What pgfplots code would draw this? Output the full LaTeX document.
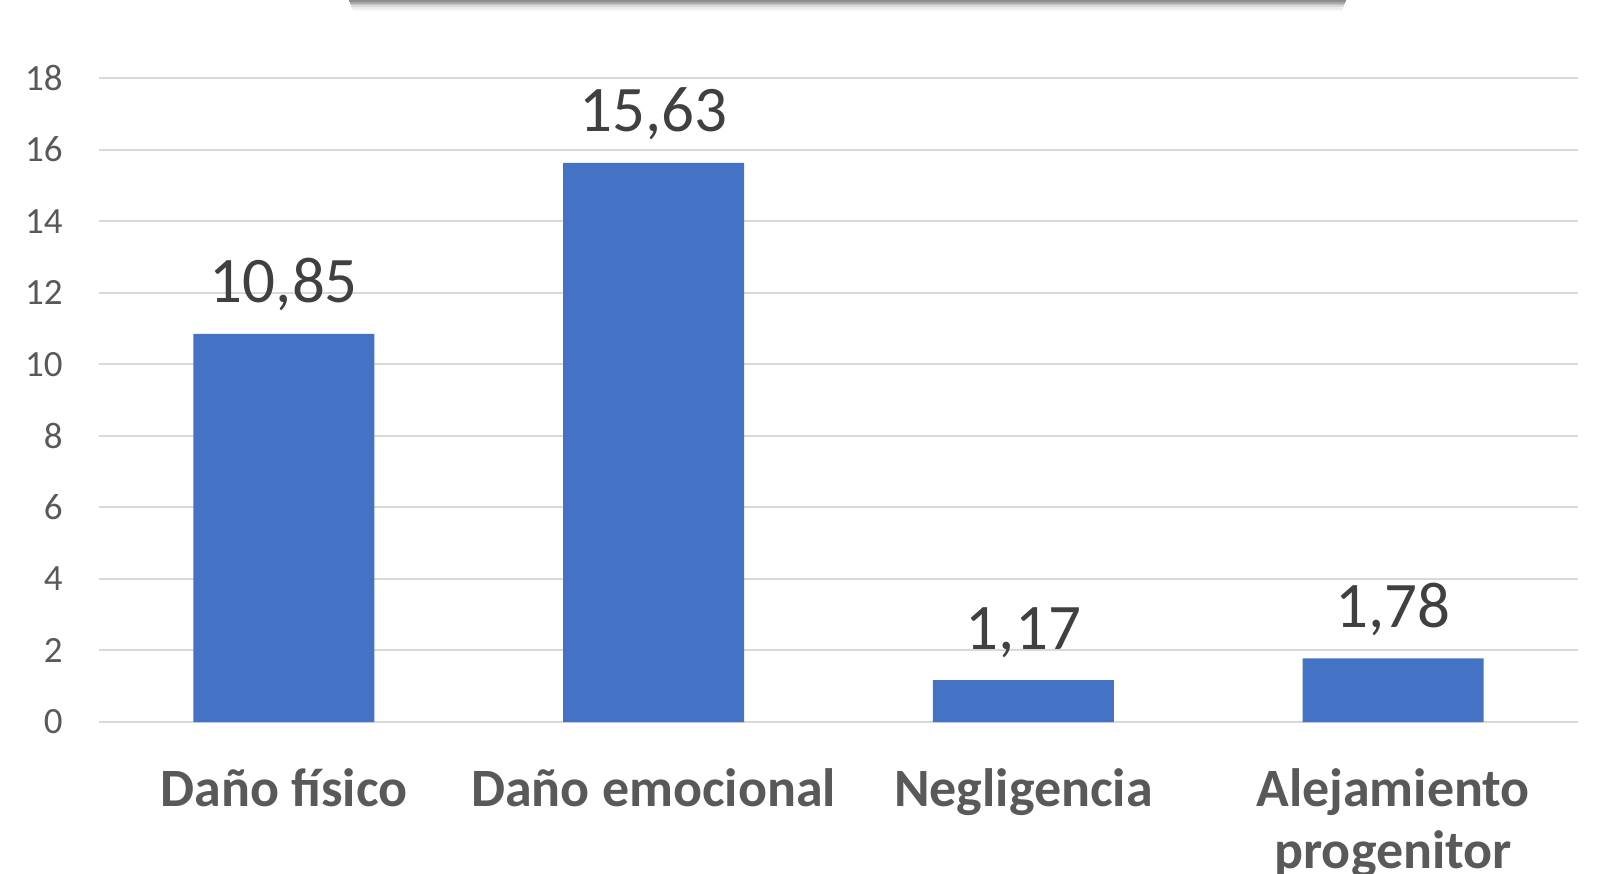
\documentclass[border=0pt]{standalone}
\usepackage{pgfplots}
\pgfplotsset{compat=1.18}
\usepackage{fontspec}
\setmainfont{Carlito}
\definecolor{barblue}{HTML}{4472C4}
\definecolor{gridgray}{HTML}{D9D9D9}
\definecolor{ticktext}{HTML}{595959}
\definecolor{valtext}{HTML}{404040}
\begin{document}
\begin{tikzpicture}
% 1 px of the reference = 0.5pt; axis box: x 99..1578 px, y 78..722 px
% shadow of the (cut off) title box at the top
\foreach \d/\o in {0/0.45,1/0.34,2/0.24,3/0.15,4/0.08,5/0.04}{
  \fill[black,opacity=\o] (125pt+\d*0.4pt,361pt-\d*0.9pt) rectangle (623.5pt-\d*0.4pt,360.1pt-\d*0.9pt);
}
\begin{axis}[
    at={(0,0)}, anchor=south west,
    scale only axis,
    width=739.5pt, height=322pt,
    ybar, bar width=90.5pt,
    xmin=-0.5, xmax=3.5,
    ymin=0, ymax=18,
    ytick={0,2,...,18},
    xtick=data,
    xticklabels={Daño físico, Daño emocional, Negligencia, {Alejamiento\\progenitor}},
    axis line style={draw=none},
    major tick length=0pt,
    ymajorgrids=true,
    grid style={gridgray, line width=1pt},
    /pgf/number format/assume math mode=true,
    yticklabel style={font=\fontsize{18.5pt}{22pt}\selectfont, text=ticktext, anchor=east, inner sep=0pt, xshift=-18pt},
    xticklabel style={font=\fontsize{27pt}{31pt}\selectfont\bfseries, text=ticktext, anchor=north, align=center, inner sep=0pt, yshift=-23pt},
    nodes near coords={\pgfmathprintnumber[fixed, fixed zerofill, precision=2, use comma]{\pgfplotspointmeta}},
    every node near coord/.append style={font=\fontsize{32.5pt}{39pt}\selectfont, text=valtext, anchor=base, inner sep=0pt, yshift=15.5pt},
]
\addplot[fill=barblue, draw=none] coordinates {
    (0,10.85)
    (1,15.63)
    (2,1.17)
    (3,1.78)
};
\end{axis}
\pgfresetboundingbox
\useasboundingbox (-49.5pt,-75.5pt) rectangle (750pt,361pt);
\end{tikzpicture}
\end{document}
